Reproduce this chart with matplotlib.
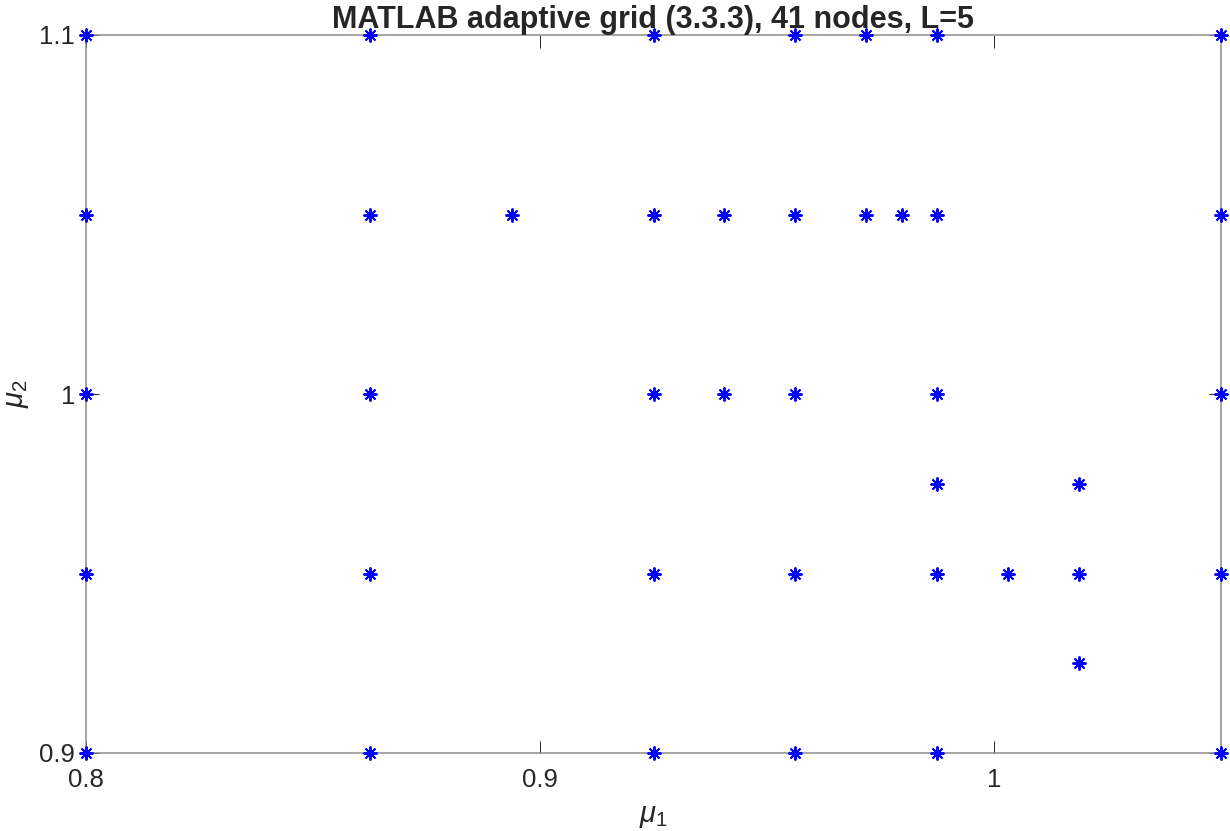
import numpy as np
import matplotlib
matplotlib.use('Agg')
import matplotlib.pyplot as plt

plt.rcParams['font.family'] = ['Liberation Sans', 'DejaVu Sans']
plt.rcParams['mathtext.fontset'] = 'custom'
plt.rcParams['mathtext.rm'] = 'Liberation Sans'
plt.rcParams['mathtext.it'] = 'Liberation Sans:italic'

# grid nodes, one row per mu_2 level
mu2_levels = [1.1, 1.05, 1.0, 0.975, 0.95, 0.925, 0.9]
mu1_rows = [
    [0.8, 0.8625, 0.925, 0.95625, 0.971875, 0.9875, 1.05],
    [0.8, 0.8625, 0.89375, 0.925, 0.940625, 0.95625, 0.971875, 0.9796875, 0.9875, 1.05],
    [0.8, 0.8625, 0.925, 0.940625, 0.95625, 0.9875, 1.05],
    [0.9875, 1.01875],
    [0.8, 0.8625, 0.925, 0.95625, 0.9875, 1.003125, 1.01875, 1.05],
    [1.01875],
    [0.8, 0.8625, 0.925, 0.95625, 0.9875, 1.05],
]
xticks = [0.8, 0.9, 1.0]
yticks = [0.9, 1.0, 1.1]
xtick_labels = ['0.8', '0.9', '1']
ytick_labels = ['0.9', '1', '1.1']

mu1 = []
mu2 = []
for lev, row in zip(mu2_levels, mu1_rows):
    mu1 += row
    mu2 += [lev] * len(row)

fig = plt.figure(figsize=(12.3, 8.31), dpi=100)
ax = fig.add_axes([86/1230, 78/831, 1135/1230, 718/831])

ax.plot(mu1, mu2, linestyle='none', marker=(8, 2, 0), markersize=10,
        markeredgewidth=1.4, color='#0000ff', clip_on=False, zorder=5)

ax.set_xlim(0.8, 1.05)
ax.set_ylim(0.9, 1.1)
ax.set_xticks(xticks)
ax.set_xticklabels(xtick_labels)
ax.set_yticks(yticks)
ax.set_yticklabels(ytick_labels)

for s in ax.spines.values():
    s.set_color('#8c8c8c')
    s.set_linewidth(1.1)
ax.tick_params(direction='in', length=9, width=0.7, color='#262626',
               top=True, right=True, labelsize=18.5, labelcolor='#262626')
ax.tick_params(axis='x', pad=11)
ax.tick_params(axis='y', pad=8)

ax.set_xlabel(r'$\mu_1$', fontsize=21, color='#262626', labelpad=7)
ax.set_ylabel(r'$\mu_2$', fontsize=21, color='#262626', labelpad=6)
ax.set_title('MATLAB adaptive grid (3.3.3), 41 nodes, L=5', fontsize=22,
             fontweight='bold', color='#262626', pad=5)

fig.savefig('out.png', dpi=100)
